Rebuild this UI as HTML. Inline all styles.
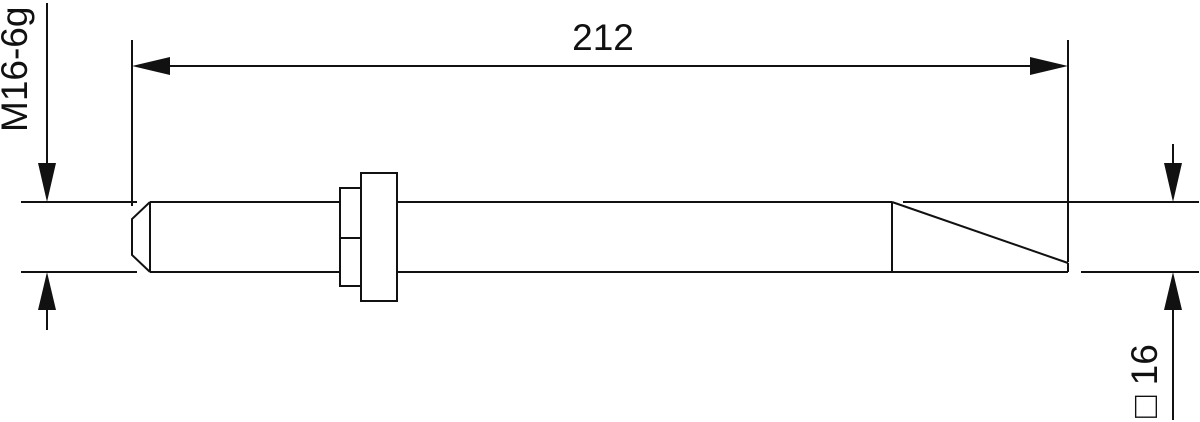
<!DOCTYPE html>
<html><head><meta charset="utf-8"><style>html,body{margin:0;padding:0;background:#fff}svg{display:block}</style></head>
<body>
<svg width="1200" height="422" viewBox="0 0 1200 422" xmlns="http://www.w3.org/2000/svg">
<g stroke="#111" stroke-width="2" fill="none">
<!-- left extension lines -->
<line x1="21" y1="202" x2="137" y2="202"/>
<line x1="21" y1="272" x2="137" y2="272"/>
<!-- left arrows -->
<line x1="47" y1="3" x2="47" y2="165"/>
<line x1="47" y1="308" x2="47" y2="330"/>
<!-- dim ext verticals -->
<line x1="132" y1="40" x2="132" y2="206"/>
<line x1="1068" y1="40" x2="1068" y2="262"/>
<!-- dim line -->
<line x1="168" y1="66" x2="1032" y2="66"/>
<!-- chamfer tip -->
<polyline points="150,202 132,219 132,255 150,272"/>
<line x1="150" y1="202" x2="150" y2="272"/>
<!-- shaft -->
<line x1="150" y1="202" x2="340" y2="202"/>
<line x1="150" y1="272" x2="340" y2="272"/>
<rect x="340" y="188" width="21" height="98"/>
<line x1="340" y1="238" x2="361" y2="238"/>
<rect x="361" y="173" width="36" height="128"/>
<line x1="397" y1="202" x2="892" y2="202"/>
<line x1="397" y1="272" x2="1068" y2="272"/>
<line x1="892" y1="202" x2="892" y2="272"/>
<line x1="892" y1="202" x2="1068" y2="263"/>
<line x1="1068" y1="263" x2="1068" y2="272"/>
<!-- right ext -->
<line x1="903" y1="202" x2="1199" y2="202"/>
<line x1="1081" y1="272" x2="1199" y2="272"/>
<line x1="1173" y1="144" x2="1173" y2="165"/>
<line x1="1173" y1="308" x2="1173" y2="420"/>
</g>
<g fill="#111">
<polygon points="38,163 56,163 47,202"/>
<polygon points="38,310 56,310 47,272"/>
<polygon points="132,66 170,57 170,75"/>
<polygon points="1068,66 1030,57 1030,75"/>
<polygon points="1164,163 1182,163 1173,202"/>
<polygon points="1164,310 1182,310 1173,272"/>
</g>
<g font-family="Liberation Sans, sans-serif" font-size="37" fill="#111">
<text x="603" y="50" text-anchor="middle">212</text>
<text transform="translate(27,132) rotate(-90)">M16-6g</text>
<text transform="translate(1157,418) rotate(-90)">□ 16</text>
</g>
</svg>
</body></html>
